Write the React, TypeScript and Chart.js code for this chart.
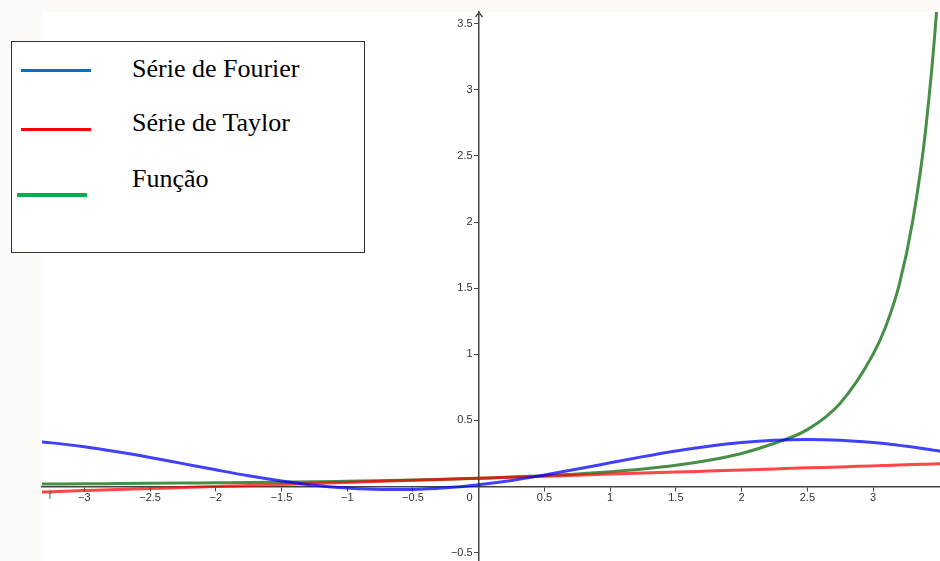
import React, { useEffect, useRef } from 'react';
import { Chart, registerables } from 'chart.js';

Chart.register(...registerables);

// ---- data ----
const xValues = [
  -3.5, -3.25, -3, -2.75, -2.5, -2.25, -2, -1.75, -1.5, -1.25, -1, -0.75, -0.5, -0.25,
  0, 0.25, 0.5, 0.75, 1, 1.25, 1.5, 1.75, 2, 2.25, 2.5, 2.75, 3, 3.1, 3.2, 3.3, 3.4, 3.5, 3.6,
];
const fourierValues = [
  0.348, 0.33, 0.301, 0.263, 0.22, 0.173, 0.126, 0.081, 0.042, 0.01, -0.012, -0.023, -0.022, -0.01,
  0.014, 0.046, 0.087, 0.132, 0.179, 0.226, 0.269, 0.305, 0.333, 0.35, 0.356, 0.35, 0.333, 0.323, 0.311, 0.298, 0.284, 0.269, 0.252,
];
const taylorValues = [
  -0.047, -0.039, -0.031, -0.023, -0.016, -0.008, 0.0, 0.008, 0.016, 0.023, 0.031, 0.039, 0.047, 0.055,
  0.0625, 0.07, 0.078, 0.086, 0.094, 0.102, 0.109, 0.117, 0.125, 0.133, 0.141, 0.148, 0.156, 0.159, 0.162, 0.166, 0.169, 0.172, 0.175,
];
const funcValues = [
  0.018, 0.019, 0.02, 0.022, 0.024, 0.026, 0.028, 0.03, 0.033, 0.036, 0.04, 0.044, 0.049, 0.055,
  0.0625, 0.071, 0.082, 0.095, 0.111, 0.132, 0.16, 0.198, 0.25, 0.327, 0.43, 0.63, 1.0, 1.22, 1.53, 2.0, 2.7, 3.85, 6.0,
];
const xTickValues = [-3, -2.5, -2, -1.5, -1, -0.5, 0, 0.5, 1, 1.5, 2, 2.5, 3];
const yTickValues = [-0.5, 0.5, 1, 1.5, 2, 2.5, 3, 3.5];
const legendLabels = ['Série de Fourier', 'Série de Taylor', 'Função'];
const legendColors = ['#0070C0', '#FF0000', '#00B050'];
const curveColors = ['rgba(0,0,255,0.75)', 'rgba(255,0,0,0.72)', 'rgba(0,100,0,0.72)'];
const functionName = 'f';

const X_MIN = -3.322;
const X_MAX = 3.509;
const Y_MIN = -0.5635;
const Y_MAX = 3.589;

function fmt(v: number): string {
  const s = String(v);
  return v < 0 ? '\u2212' + s.slice(1) : s;
}

const decoPlugin = {
  id: 'deco',
  beforeDraw(chart: any) {
    const { ctx, chartArea: a, width, height } = chart;
    ctx.save();
    ctx.fillStyle = '#fcfbf8';
    ctx.fillRect(0, 0, width, height);
    ctx.fillStyle = '#ffffff';
    ctx.fillRect(a.left, a.top, a.right - a.left, a.bottom - a.top);
    ctx.restore();
  },
  afterDraw(chart: any) {
    const { ctx, chartArea: a, scales } = chart;
    const x0 = Math.round(scales.x.getPixelForValue(0));
    ctx.save();
    ctx.strokeStyle = '#444';
    ctx.lineWidth = 1.3;
    ctx.beginPath();
    ctx.moveTo(x0 - 3.5, a.top + 5);
    ctx.lineTo(x0, a.top + 0.5);
    ctx.lineTo(x0 + 3.5, a.top + 5);
    ctx.stroke();
    ctx.fillStyle = '#2e7d32';
    ctx.font = '11px "Liberation Sans"';
    ctx.textAlign = 'center';
    ctx.textBaseline = 'middle';
    ctx.fillText(functionName, a.left + 8, scales.y.getPixelForValue(0) + 9);
    ctx.restore();
  },
};

function zeroFit(s: any) {
  s.paddingTop = 0;
  s.paddingBottom = 0;
  s.paddingLeft = 0;
  s.paddingRight = 0;
}

export default function App() {
  const canvasRef = useRef<HTMLCanvasElement | null>(null);

  useEffect(() => {
    const canvas = canvasRef.current;
    if (!canvas) return;
    const mk = (vals: number[]) => xValues.map((x, i) => ({ x, y: vals[i] }));
    const chart = new Chart(canvas, {
      type: 'line',
      data: {
        datasets: [
          {
            label: legendLabels[0],
            data: mk(fourierValues),
            borderColor: curveColors[0],
            borderWidth: 3,
            pointRadius: 0,
            cubicInterpolationMode: 'monotone',
            order: 0,
            clip: 0,
          },
          {
            label: legendLabels[1],
            data: mk(taylorValues),
            borderColor: curveColors[1],
            borderWidth: 3,
            pointRadius: 0,
            cubicInterpolationMode: 'monotone',
            order: 1,
            clip: 0,
          },
          {
            label: legendLabels[2],
            data: mk(funcValues),
            borderColor: curveColors[2],
            borderWidth: 3,
            pointRadius: 0,
            cubicInterpolationMode: 'monotone',
            order: 2,
            clip: 0,
          },
        ],
      },
      options: {
        responsive: false,
        animation: false,
        events: [],
        layout: { padding: { left: 42, top: 12, right: 0, bottom: 0 } },
        plugins: { legend: { display: false }, tooltip: { enabled: false } },
        scales: {
          x: {
            type: 'linear',
            min: X_MIN,
            max: X_MAX,
            position: { y: 0 } as any,
            afterFit: (s: any) => { s.height = 0; zeroFit(s); },
            afterBuildTicks: (s: any) => { s.ticks = xTickValues.map((v) => ({ value: v })); },
            grid: { display: true, drawOnChartArea: false, drawTicks: true, tickLength: 4, color: '#444', tickWidth: 1 },
            border: { display: true, color: '#444', width: 1.5 },
            ticks: {
              autoSkip: false,
              maxRotation: 0,
              minRotation: 0,
              padding: 1,
              color: '#333',
              font: { family: '"Liberation Sans", Arial, sans-serif', size: 11 },
              callback: (v: any) => (Number(v) === 0 ? '0      ' : fmt(Number(v))),
            },
          },
          y: {
            type: 'linear',
            min: Y_MIN,
            max: Y_MAX,
            position: { x: 0 } as any,
            afterFit: (s: any) => { s.width = 0; zeroFit(s); },
            afterBuildTicks: (s: any) => { s.ticks = yTickValues.map((v) => ({ value: v })); },
            grid: { display: true, drawOnChartArea: false, drawTicks: true, tickLength: 4, color: '#444', tickWidth: 1 },
            border: { display: true, color: '#444', width: 1.5 },
            ticks: {
              autoSkip: false,
              padding: 0,
              color: '#333',
              font: { family: '"Liberation Sans", Arial, sans-serif', size: 11 },
              callback: (v: any) => fmt(Number(v)) + '  ',
            },
          },
        },
      },
      plugins: [decoPlugin],
    } as any);
    return () => chart.destroy();
  }, []);

  const textStyle: React.CSSProperties = {
    position: 'absolute',
    left: 132,
    fontFamily: '"Liberation Serif", "Times New Roman", serif',
    fontSize: 26,
    lineHeight: '30px',
    color: '#000',
    whiteSpace: 'nowrap',
    margin: 0,
  };
  const lineTops = [68.5, 127.5, 193];
  const lineLefts = [21, 21, 17];
  const textTops = [53.5, 107.5, 163.5];

  return (
    <div style={{ position: 'absolute', left: 0, top: 0, width: 940, height: 561, overflow: 'hidden' }}>
      <canvas ref={canvasRef} width={940} height={561} style={{ display: 'block', width: 940, height: 561 }} />
      <div
        style={{
          position: 'absolute',
          left: 11,
          top: 41,
          width: 354,
          height: 212,
          boxSizing: 'border-box',
          border: '1.6px solid #333',
          background: '#fff',
        }}
      />
      {legendLabels.map((lab, i) => (
        <React.Fragment key={lab}>
          <div
            style={{
              position: 'absolute',
              left: lineLefts[i],
              top: lineTops[i],
              width: 70,
              height: 3.6,
              background: legendColors[i],
            }}
          />
          <div style={{ ...textStyle, top: textTops[i] }}>{lab}</div>
        </React.Fragment>
      ))}
    </div>
  );
}
